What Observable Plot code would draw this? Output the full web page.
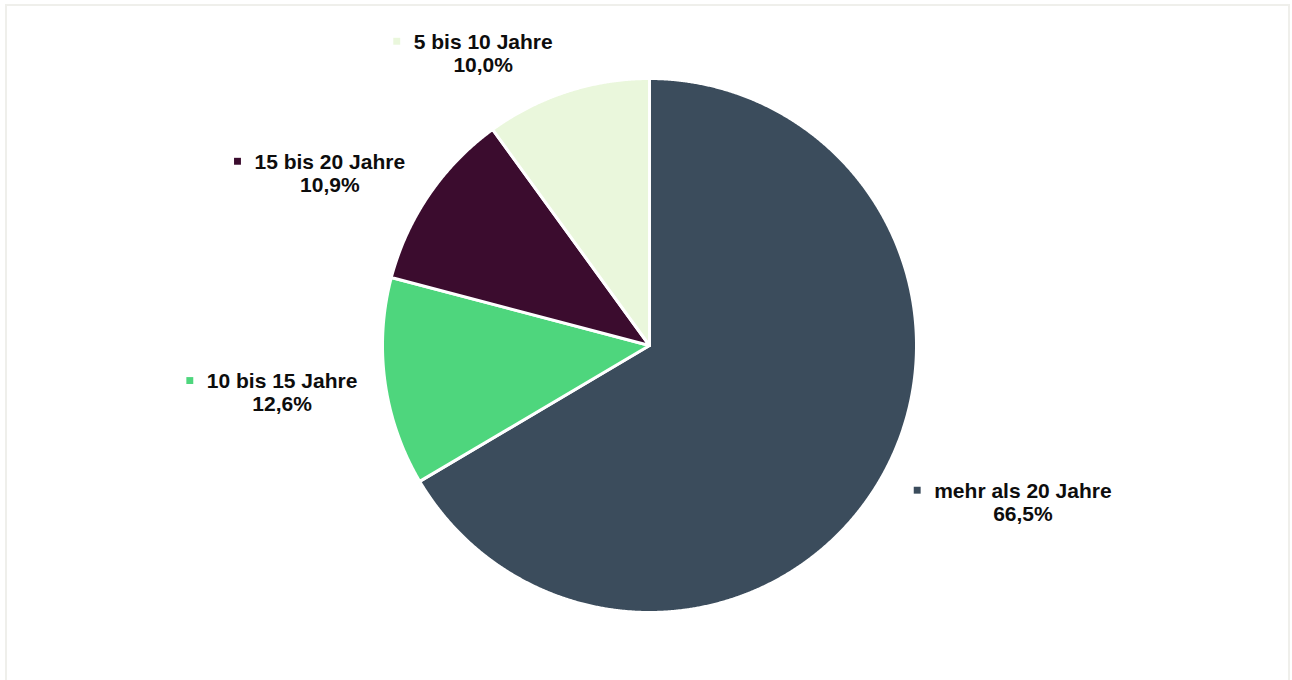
<!DOCTYPE html>
<html><head><meta charset="utf-8">
<script src="https://cdn.jsdelivr.net/npm/d3@7"></script>
<script src="https://cdn.jsdelivr.net/npm/@observablehq/plot@0.6"></script>
<style>
body{margin:0;background:#fff;}
#frame{position:absolute;left:5px;top:4px;width:1285px;height:720px;border:2px solid #efefeb;border-bottom:none;box-sizing:border-box;}
#chart{position:absolute;left:0;top:0;}
</style></head><body><div id="frame"></div><div id="chart"></div>
<script>
const categories = ["mehr als 20 Jahre","10 bis 15 Jahre","15 bis 20 Jahre","5 bis 10 Jahre"];
const shares = [66.5, 12.6, 10.9, 10.0];
const valueLabels = ["66,5%","12,6%","10,9%","10,0%"];
const colors = ["#3b4c5c","#4ed67d","#3b0c2e","#eaf7dc"];
// label layout (radius in pie radii, angular shift in degrees from slice middle)
const labelRadius = [1.516, 1.387, 1.361, 1.261];
const labelShift = [-7, 0.7, -6, -11.6];

const FONT_SIZE = 21, FONT = "'Liberation Sans', Arial, sans-serif";
const R = 267;

const arcs = d3.pie().sort(null).value(d => d)(shares);
const poly = [];
arcs.forEach((a, i) => {
  const cat = categories[i];
  poly.push({cat, x: 0, y: 0});
  const n = Math.max(2, Math.ceil((a.endAngle - a.startAngle) / 0.004));
  for (let k = 0; k <= n; k++) {
    const t = a.startAngle + (a.endAngle - a.startAngle) * k / n;
    poly.push({cat, x: Math.sin(t), y: Math.cos(t)});
  }
  poly.push({cat, x: 0, y: 0});
});

const ctx = document.createElement("canvas").getContext("2d");
ctx.font = `bold ${FONT_SIZE}px ${FONT}`;
const labels = arcs.map((a, i) => {
  const mid = (a.startAngle + a.endAngle) / 2 + labelShift[i] * Math.PI / 180;
  const x = Math.sin(mid) * labelRadius[i], y = Math.cos(mid) * labelRadius[i];
  const w = ctx.measureText(categories[i]).width;
  return {cat: categories[i], text: categories[i] + "\n" + valueLabels[i], x, y,
          sx: x - (w / 2 + 17) / R, sy: y + 11.5 / R};
});

const chart = Plot.plot({
  width: 1292, height: 680,
  marginLeft: 382, marginRight: 376, marginTop: 78, marginBottom: 68,
  x: {domain: [-1, 1], axis: null},
  y: {domain: [-1, 1], axis: null},
  color: {domain: categories, range: colors},
  style: {background: "transparent"},
  marks: [
    Plot.line(poly, {x: "x", y: "y", z: "cat", fill: "cat", stroke: "#fff", strokeWidth: 3, strokeLinejoin: "round", curve: "linear"}),
    Plot.dot(labels, {x: "sx", y: "sy", symbol: "square", r: 3.9, fill: "cat", stroke: null}),
    Plot.text(labels, {x: "x", y: "y", text: "text", fontSize: FONT_SIZE, fontWeight: "bold", fontFamily: FONT, fill: "#0d0d0d", lineAnchor: "middle", lineHeight: 23 / FONT_SIZE, textAnchor: "middle"})
  ]
});
document.getElementById("chart").append(chart);
</script></body></html>
